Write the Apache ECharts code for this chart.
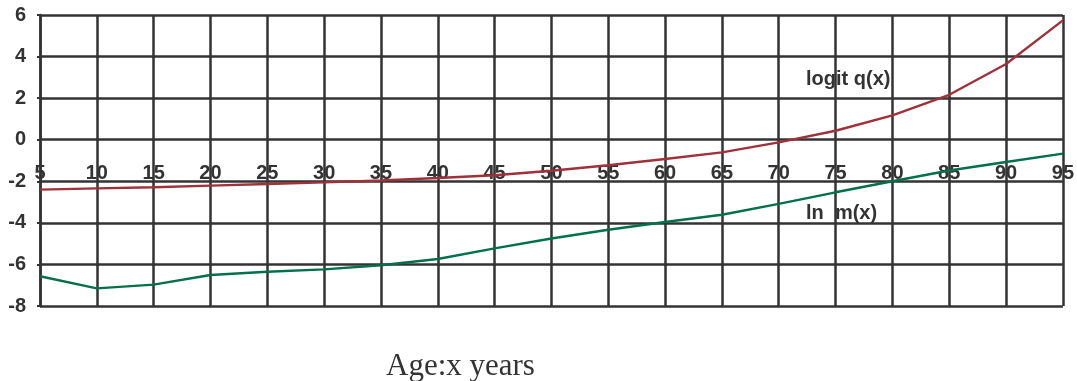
<!DOCTYPE html>
<html>
<head>
<meta charset="utf-8">
<script src="https://cdn.jsdelivr.net/npm/echarts@6/dist/echarts.min.js"></script>
<style>
  html, body { margin: 0; padding: 0; background: #ffffff; }
  #chart { width: 1077px; height: 381px; }
</style>
</head>
<body>
<div id="chart"></div>
<script>
// Age groups (years)
const ages = [5, 10, 15, 20, 25, 30, 35, 40, 45, 50, 55, 60, 65, 70, 75, 80, 85, 90, 95];

// logit of the probability of dying, q(x)
const logitQ = [-2.40, -2.34, -2.29, -2.21, -2.13, -2.05, -1.96, -1.84, -1.71, -1.49,
                -1.23, -0.93, -0.61, -0.13, 0.43, 1.17, 2.16, 3.64, 5.74];

// natural log of the central death rate, m(x)
const lnM = [-6.57, -7.15, -6.97, -6.51, -6.35, -6.24, -6.04, -5.74, -5.23, -4.75,
             -4.33, -3.96, -3.61, -3.09, -2.53, -2.00, -1.48, -1.07, -0.67];

const gridColor = '#333333';
const textColor = '#333333';
const labelFont = { fontFamily: 'Liberation Sans', fontWeight: 'bold', fontSize: 20, color: textColor };

const chart = echarts.init(document.getElementById('chart'), null, { renderer: 'canvas' });

chart.setOption({
  animation: false,
  backgroundColor: '#ffffff',
  grid: { left: 40, right: 13, top: 15, bottom: 75, containLabel: false },
  xAxis: {
    type: 'category',
    data: ages,
    boundaryGap: false,
    // age labels sit just under the zero line, inside the plot
    axisLine: { show: false, onZero: false },
    axisTick: { show: false },
    axisLabel: Object.assign({ margin: -143, interval: 0 }, labelFont),
    splitLine: { show: true, interval: 0, lineStyle: { color: gridColor, width: 2.5 } }
  },
  yAxis: {
    type: 'value',
    min: -8,
    max: 6,
    interval: 2,
    axisLine: { show: true, lineStyle: { color: gridColor, width: 2.5 } },
    axisTick: { show: true, length: 3, lineStyle: { color: gridColor, width: 2 } },
    axisLabel: Object.assign({ margin: 14 }, labelFont),
    splitLine: { show: true, lineStyle: { color: gridColor, width: 2.5 } }
  },
  title: {
    text: 'Age:x years',
    left: 381,
    top: 346,
    textStyle: { fontFamily: 'Liberation Serif', fontWeight: 'normal', fontSize: 31, color: textColor }
  },
  graphic: [
    { type: 'text', left: 806, top: 69,
      style: { text: 'logit q(x)', font: 'bold 20px "Liberation Sans"', fill: textColor } },
    { type: 'text', left: 806, top: 203,
      style: { text: 'ln  m(x)', font: 'bold 20px "Liberation Sans"', fill: textColor } }
  ],
  series: [
    {
      name: 'logit q(x)',
      type: 'line',
      data: logitQ,
      symbol: 'none',
      z: 1,
      lineStyle: { color: '#a0303a', width: 2.4 }
    },
    {
      name: 'ln m(x)',
      type: 'line',
      data: lnM,
      symbol: 'none',
      z: 1,
      lineStyle: { color: '#00704a', width: 2.4 }
    }
  ]
});
</script>
</body>
</html>
